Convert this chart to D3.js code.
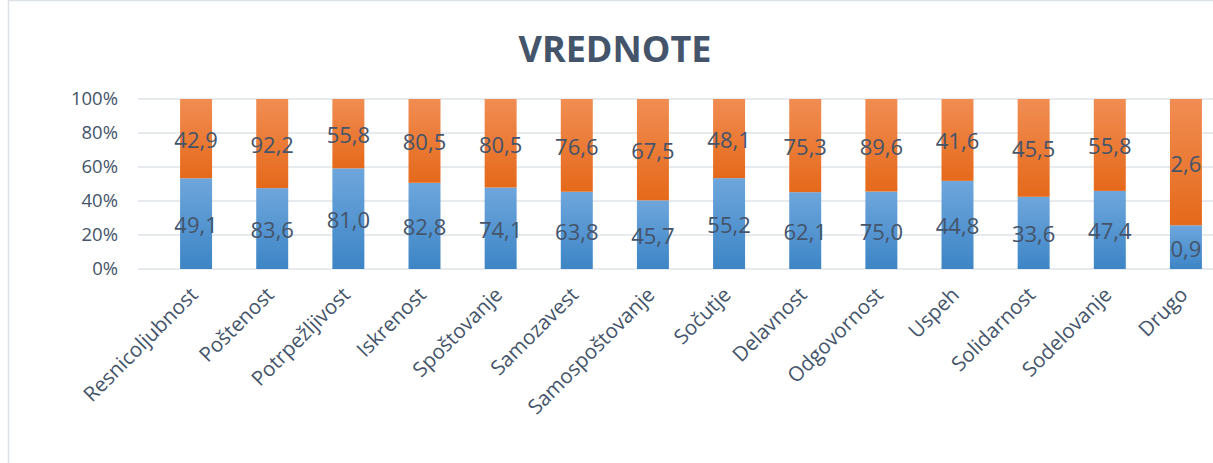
<!DOCTYPE html>
<html>
<head>
<meta charset="utf-8">
<script src="https://cdn.jsdelivr.net/npm/d3@7"></script>
<style>
  body { margin: 0; background: #fff; }
  svg { display: block; }
</style>
</head>
<body>
<div id="chart"></div>
<script>
// categories and the two series (labels shown on the bars)
var categories = ["Resnicoljubnost", "Poštenost", "Potrpežljivost", "Iskrenost", "Spoštovanje",
  "Samozavest", "Samospoštovanje", "Sočutje", "Delavnost", "Odgovornost", "Uspeh",
  "Solidarnost", "Sodelovanje", "Drugo"];
var blueValues = [49.1, 83.6, 81.0, 82.8, 74.1, 63.8, 45.7, 55.2, 62.1, 75.0, 44.8, 33.6, 47.4, 0.9];
var orangeValues = [42.9, 92.2, 55.8, 80.5, 80.5, 76.6, 67.5, 48.1, 75.3, 89.6, 41.6, 45.5, 55.8, 2.6];
var yTicks = [0, 0.2, 0.4, 0.6, 0.8, 1];

var width = 1213, height = 463;
var textColor = "#44546A";

var svg = d3.select("#chart").append("svg")
    .attr("width", width)
    .attr("height", height);

// gradients like the office style fill
var defs = svg.append("defs");
function grad(id, top, bottom) {
  var g = defs.append("linearGradient").attr("id", id)
      .attr("x1", 0).attr("y1", 0).attr("x2", 0).attr("y2", 1);
  g.append("stop").attr("offset", "0%").attr("stop-color", top);
  g.append("stop").attr("offset", "100%").attr("stop-color", bottom);
}
grad("gBlue", "#6EA6DC", "#3D85C6");
grad("gOrange", "#F18D53", "#E5691A");

// chart frame
svg.append("rect")
    .attr("x", 8.5).attr("y", 0.5)
    .attr("width", width + 10).attr("height", height + 10)
    .attr("fill", "none")
    .attr("stroke", "#DDE2E8")
    .attr("stroke-width", 1.5);

svg.append("text")
    .attr("x", 615).attr("y", 62)
    .attr("text-anchor", "middle")
    .attr("font-family", "'Open Sans', sans-serif")
    .attr("font-weight", "bold")
    .attr("font-size", 36)
    .attr("fill", textColor)
    .text("VREDNOTE");

var x = d3.scaleBand()
    .domain(categories)
    .range([158, 1224])
    .paddingInner(0.58)
    .paddingOuter(0.29);

var y = d3.scaleLinear()
    .domain([0, 1])
    .range([269, 99]);

var data = categories.map(function(c, i) {
  var tot = blueValues[i] + orangeValues[i];
  return { cat: c, blue: blueValues[i], orange: orangeValues[i], bf: blueValues[i] / tot };
});

// gridlines
svg.append("g").selectAll("line")
    .data(yTicks)
    .enter().append("line")
    .attr("x1", 138).attr("x2", width)
    .attr("y1", function(d) { return y(d); })
    .attr("y2", function(d) { return y(d); })
    .attr("stroke", "#DFE3E8")
    .attr("stroke-width", 1.5);

// y axis labels
var yAxis = svg.append("g")
    .attr("transform", "translate(128,0)")
    .call(d3.axisLeft(y).tickValues(yTicks).tickSize(0).tickPadding(10).tickFormat(d3.format(".0%")));
yAxis.select(".domain").remove();
yAxis.selectAll("text")
    .attr("font-family", "'Open Sans', sans-serif")
    .attr("font-size", 18.5)
    .attr("fill", textColor)
    .attr("x", -10);

var bar = svg.append("g").selectAll("g")
    .data(data)
    .enter().append("g");

bar.append("rect")
    .attr("x", function(d) { return x(d.cat); })
    .attr("width", x.bandwidth())
    .attr("y", function(d) { return y(d.bf); })
    .attr("height", function(d) { return y(0) - y(d.bf); })
    .attr("fill", "url(#gBlue)");

bar.append("rect")
    .attr("x", function(d) { return x(d.cat); })
    .attr("width", x.bandwidth())
    .attr("y", y(1))
    .attr("height", function(d) { return y(d.bf) - y(1); })
    .attr("fill", "url(#gOrange)");

var fmt = function(v) { return d3.format(".1f")(v).replace(".", ","); };

bar.append("text")
    .attr("x", function(d) { return x(d.cat) + x.bandwidth() / 2; })
    .attr("y", function(d) { return (y(0) + y(d.bf)) / 2 + 9.5; })
    .attr("text-anchor", "middle")
    .attr("font-family", "'Open Sans', sans-serif")
    .attr("font-size", 22)
    .attr("fill", textColor)
    .text(function(d) { return fmt(d.blue); });

bar.append("text")
    .attr("x", function(d) { return x(d.cat) + x.bandwidth() / 2; })
    .attr("y", function(d) { return (y(1) + y(d.bf)) / 2 + 9.5; })
    .attr("text-anchor", "middle")
    .attr("font-family", "'Open Sans', sans-serif")
    .attr("font-size", 22)
    .attr("fill", textColor)
    .text(function(d) { return fmt(d.orange); });

// category labels, rotated
svg.append("g").selectAll("text")
    .data(categories)
    .enter().append("text")
    .attr("transform", function(d) {
      return "translate(" + (x(d) + x.bandwidth() / 2 + 3) + ",296) rotate(-45)";
    })
    .attr("text-anchor", "end")
    .attr("font-family", "'Open Sans', sans-serif")
    .attr("font-size", 20.5)
    .attr("fill", textColor)
    .text(function(d) { return d; });
</script>
</body>
</html>
